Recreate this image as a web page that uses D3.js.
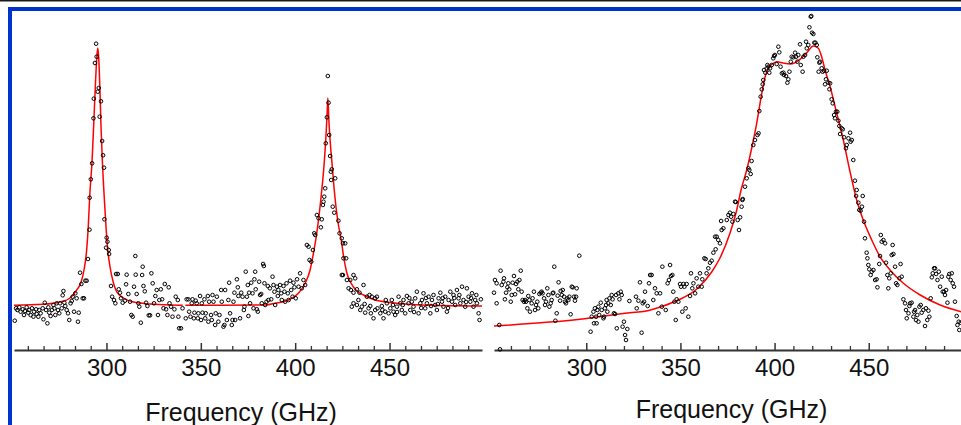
<!DOCTYPE html>
<html>
<head>
<meta charset="utf-8">
<script src="https://cdn.jsdelivr.net/npm/d3@7"></script>
<style>
  body { margin: 0; background: #fff; }
  text { font-family: "Liberation Sans", Arial, sans-serif; }
</style>
</head>
<body>
<div id="chart"></div>
<script>
// Frequency (GHz) vs signal (arb. units)
const majorTicks = [300, 350, 400, 450];
const leftMinorStep = 50 / 6;
const rightMinorStep = 10;
const axisTitle = "Frequency (GHz)";

// left panel: measured points
const leftPts = [
  [251.4,29.3],[252.1,41.7],[252.8,40],[253.8,42.7],[254.5,38.3],[255.6,40.7],[256.3,35],[256.8,39],[257.7,42.7],[258.6,37.3],
  [259.1,40],[259.8,35],[260.5,41.7],[261.3,33.3],[261.6,38.3],[262.7,40.7],[263,36],[263.9,33.3],[264.4,40],[265.1,36.7],
  [266.2,41.7],[266.6,30.7],[267.3,47.3],[268,40],[268.7,26.7],[269.2,42.7],[269.7,37.3],[270.4,34],[271.1,40],[271.9,45],
  [272.4,41.7],[272.9,35],[273.6,46.7],[274.3,40],[275,36.7],[275.4,46.7],[276.3,41.7],[276.8,54.7],[277.2,59],[277.7,47.3],
  [278.2,44],[278.9,40],[279.6,36.7],[280.3,30],[281,46.7],[281.6,49],[282.1,53.3],[282.8,38.3],[283.5,56.7],[284.2,51.7],
  [284.9,28.3],[285.3,37.3],[286,77.3],[286.7,66],[287.4,51.7],[288.1,51.7],[288.8,69.3],[289.5,69.3],[290.2,91],[291,120.3],
  [291.1,152.3],[291.7,170.7],[292.4,186.7],[293.1,231.7],[293.3,251.3],[293.9,287],[294.5,306.3],[294.8,293.3],[295.4,258.3],[295.9,262],
  [296.4,233.3],[297.1,248.7],[297.7,209],[298.2,194.7],[298.7,182.3],[298.9,130.7],[299.8,102.3],[300.1,112.3],[300.5,108.3],[301.2,100],
  [301.4,96],[302.4,64],[303,53.3],[304,50],[304.7,46.7],[305.1,76],[306,76],[306.5,60.7],[307.2,57.3],[307.7,51.7],
  [308.6,47.3],[309.8,49.3],[310.4,65.7],[310.7,75.3],[311.6,56],[312.5,48.3],[313.2,35],[313.9,33.3],[314.6,63.3],[315.3,94],
  [315.5,75.3],[316,56],[316.9,46.7],[317.4,43.3],[318.2,27.3],[318.9,75],[319.2,83.3],[319.6,64],[320.3,58.7],[321,47.3],
  [321.7,44],[322.4,34.7],[323.1,34.7],[323.8,76.7],[324.5,66.7],[325.2,46.7],[325.9,54],[326.6,60],[327.3,35],[328,50],
  [328.8,60.7],[329.5,50.7],[330.2,41.7],[330.9,66],[331.6,40.7],[332.3,35],[333,62.7],[333.4,46.7],[334.2,43.3],[335,33.3],
  [336,40.7],[336.7,53.3],[337.8,50],[338.1,33.3],[338.5,21.7],[339.5,21.7],[340.3,41.7],[342,31.7],[342.5,50.7],[343.4,50.7],
  [343.8,38.3],[344.5,33.3],[345.2,46.7],[345.6,50.7],[346.3,31.7],[346.6,37.3],[347.3,49.3],[347.8,46.7],[348.4,31.7],[348.7,36.7],
  [349.6,54],[350.1,30],[350.5,46.7],[350.9,37.3],[351.9,50.7],[352.3,31.7],[352.6,36.7],[353.7,54],[354,28.3],[354.4,48.3],
  [355.4,35],[355.8,30],[356.2,55],[356.7,48.3],[357.6,25],[357.9,36.7],[358.5,53.3],[359.3,28.3],[359.9,35],[360.8,60],
  [361.1,48.3],[362,23.3],[362.5,25],[362.9,60],[363.8,30],[364.6,50],[365,67.3],[365.5,36.7],[366.4,25],[366.8,30],
  [367.3,48.3],[367.8,57.3],[368.2,30],[369.1,70.7],[369.6,62.7],[369.9,54],[370.8,31.7],[371.4,57.3],[372.1,53.3],[372.8,40],
  [373.1,43.3],[373.8,78.3],[374.4,53.3],[374.9,65],[375.2,34],[375.6,57.3],[376.1,46.7],[376.7,67.3],[377.4,56.7],[377.9,41.7],
  [378.4,70.7],[378.8,78.3],[379.1,60.7],[379.7,40.7],[380.2,38.3],[380.9,68.3],[381.4,55],[382,56],[382.3,46.7],[383,86],
  [383.4,84],[383.7,66.7],[384.1,45],[384.8,48.3],[385.5,64],[385.8,50],[386.6,61.7],[387.3,50.7],[388,73.3],[388.5,65],
  [389,58.3],[389.4,45],[390.3,63.3],[390.8,54],[391.1,60],[392,65],[392.6,56.7],[392.9,50],[393.8,64],[394.3,58.3],
  [394.7,48.3],[395.4,66.7],[396.1,56.7],[396.5,50],[397.3,69.3],[397.9,60],[398.6,53.3],[399.1,67.3],[399.6,62.7],[400.3,51.7],
  [401,70.7],[401.8,63.3],[402.6,76.7],[403.5,61.7],[404.4,70],[405.3,65],[406.2,105],[407.1,103.3],[407.6,90],[408.5,88.3],
  [409.4,100],[410.1,116.7],[410.6,115],[411.5,135],[412.4,131.7],[413.6,122.7],[414.1,130.7],[414.7,145],[415,148.3],[415.4,153.3],
  [415.9,161.7],[416.2,206.7],[416.8,232.7],[417.3,274],[417.7,247.3],[418,215],[418.5,194],[418.9,178.3],[419.1,170],[419.4,180.7],
  [421.2,171.7],[419.9,143.3],[420.7,137.3],[422.9,129.3],[423.5,116.7],[424.7,111.7],[425.3,106.7],[426.5,106.7],[425.6,91.7],[427,91.7],
  [424.7,75],[425.3,75],[427.4,70],[429.2,70],[430.9,75],[431.8,71.7],[428.3,61.7],[429.5,60],[430.9,57.3],[432.7,60.7],
  [434.1,57.3],[436.2,65],[438,53.3],[439.4,55],[440.6,53.3],[442.4,51.7],[443.3,53.3],[430,43.3],[430.9,46.7],[432.7,45],
  [433.5,50],[434.5,40],[435.3,43.3],[436.8,46],[437.1,37.3],[438.9,41.7],[439.8,44],[440.1,36.7],[441.5,31.7],[442.4,40],
  [443.6,41.7],[445.1,36.7],[445.9,44],[446.2,40],[446.8,31.7],[447.7,38.3],[448,50],[448.6,46.7],[449.5,36.7],[450.4,41.7],
  [451.2,50],[451.8,45],[452.1,38.3],[453,35],[453.9,43.3],[454,38],[454.8,53.3],[455.7,46.7],[456.5,40],[457,45],
  [457.4,50],[458.3,36.7],[459.2,54],[460.1,46.7],[460.5,52],[461,40],[461.8,48.3],[462.7,43.3],[463,38],[463.6,51.7],
  [464.5,58.3],[465.4,36.7],[466.3,46.7],[466.8,42],[467.2,50],[468,56.7],[468.9,41.7],[469.3,52],[469.8,46.7],[470.7,53.3],
  [471.6,36.7],[472,44],[472.5,50],[473.3,55],[474.2,45],[475.1,40],[475.6,46],[476,51.7],[476.9,57.3],[477.8,48.3],
  [478.2,52],[478.6,43.3],[479.5,53.3],[480.4,38.3],[481,42],[481.3,50],[482.2,58.3],[483.1,48.3],[483.9,55],[484.3,52],
  [484.8,45],[485.7,60],[486.6,51.7],[487,55],[487.5,46.7],[488.4,63.3],[489.2,50],[490.1,43.3],[490.6,48],[491,61.7],
  [491.9,53.3],[492.8,48.3],[493.2,52],[493.7,56.7],[494.5,43.3],[495.4,50],[496,55],[496.3,46.7],[497.2,36.7],[497.7,30],
  [498.4,50.7]
];

// left panel: fitted curve (drawn with a short break near 341 GHz as in the original)
const leftFitA = [
  [251,44.7],[266.5,45.7],[275.4,48],[280.7,52],[284.2,60],[286.4,67],[288.1,80],[289.5,100],[290.4,125],[291.1,153],
  [292.4,190],[293.3,228],[294.2,268],[294.9,293],[295.4,302],[295.9,292],[296.5,262],[297.1,224],[297.8,190],[298.9,150],
  [299.8,122],[300.7,100],[301.9,83],[303.7,67],[305.5,58],[309,52],[314.3,48],[323.1,46],[333.7,45],[340.4,44.8]
];
const leftFitB = [
  [341.8,44.8],[360,44.8],[384.1,45],[389.4,46.7],[396.4,50],[401.7,56.7],[405.3,66.7],[407.9,80],[409.7,97],[411.3,115],
  [412.8,137],[414.1,160],[415.3,185],[416.2,210],[416.9,235],[417.3,252],[417.8,232],[418.5,210],[419.6,185],[420.7,160],
  [422.5,130],[424.4,110],[425.8,92],[427.4,77],[429,69],[430.9,63],[432.7,59],[436.2,55],[441.5,50.5],[453.9,46.7],
  [466.3,45],[499,44]
];

// right panel: measured points
const rightPts = [
  [251,57.3],[251.5,70],[252.4,66.7],[252.4,46.7],[253.8,25],[254.2,0.7],[254.5,79.3],[255.1,65],[256,68.3],[256.3,71.7],
  [256.8,50.7],[257.4,57.3],[258.1,62.7],[258.6,66.7],[259.1,60.7],[259.9,48.3],[260.4,55],[260.9,67.3],[261.6,74],[262.2,55.7],
  [262.7,66],[263.4,68.3],[263.9,60.7],[264.5,70],[265.2,79.3],[265.7,58.3],[266.2,50],[266.9,48.3],[267.5,50],[268,48.3],
  [268.7,41.7],[269.2,54],[269.8,50],[270.1,38.3],[271,46.7],[271.5,51.7],[272.2,58.3],[272.8,40],[273.3,45],[274,48.3],
  [274.5,41.7],[275.1,56],[275.8,57.3],[276.3,58.3],[276.8,56.7],[277.6,51.7],[278.1,45],[278.6,48.3],[279.3,61.7],[279.9,55],
  [280.4,43.3],[281.1,46.7],[281.6,50],[282.2,56.7],[282.5,57.3],[283,83.3],[283.6,29.3],[284.3,36.7],[284.8,54.3],[285.3,67.7],
  [286.1,49.3],[286.4,59],[287,55],[287.5,60],[288.2,53.3],[288.7,48.3],[289.2,46.7],[290,51.7],[290.5,50],[291,53.3],
  [291.7,35.7],[292.3,63.3],[292.8,62.7],[293.5,53.3],[294,49.3],[294.6,53.3],[294.9,61.7],[296.3,94.3],[302.3,18.3],[302.9,33.3],
  [303.8,38.3],[304.1,26.7],[304.6,41.7],[305.2,33.3],[305.5,26.7],[305.9,40],[306.4,43.3],[306.9,35],[307.7,47.3],[308.2,40],
  [309.1,31.7],[309.4,33.3],[309.9,41.7],[310.5,45],[310.8,50],[311.2,38.3],[311.7,46.7],[312.3,51.7],[313,45],[313.5,55],
  [314,50.7],[314.7,36.7],[315.3,36],[315.8,55],[316.2,21.7],[317,56.7],[317.6,50.7],[318.3,58.3],[318.8,55],[319.3,23.3],
  [320,28.3],[320.6,15],[321.1,10],[321.8,21],[322.9,49],[326.4,53.3],[326.8,41.7],[327.7,49.3],[328.5,67.7],[329.4,17.3],
  [330,46.7],[330.7,48.3],[331.2,58.3],[332.6,44],[333.3,66.7],[333.9,75],[334.7,75],[335.6,50],[336.5,61.7],[337.4,56.7],
  [338.3,36.7],[339.2,56.7],[340.1,43.3],[340.4,83.3],[342.2,40],[343.2,66.7],[343.9,70],[344.5,85],[345,74],[345.7,75],
  [346.2,58.3],[346.8,48.3],[347.5,30],[348,50.7],[348.9,48.3],[349.8,66],[350.3,63.3],[351,38.3],[351.6,66],[352.1,63.3],
  [352.8,41.7],[353.3,66],[354.2,33.3],[355.1,54],[355.6,76.7],[356.3,61.7],[356.9,66.7],[357.8,56.7],[358.6,71.7],[359.5,63.3],
  [360.4,76.7],[361.3,63.3],[361.6,70.7],[362.7,91.7],[363.4,91],[363.9,76.7],[364.8,81.7],[365.7,87.3],[366.6,89.3],[367.5,97.3],
  [368.4,113.3],[369.3,113.3],[368.7,100.7],[370.1,110],[371,106.7],[371.9,120],[372.8,121.7],[371.6,129],[374.6,130],[375.5,135],
  [376.3,137.3],[376.9,133.3],[377.6,128.3],[378.1,136],[379,148.3],[379.4,148],[380.4,130],[381.1,120],[381.7,132.7],[382.5,143.3],
  [382.9,150],[383.1,151],[384.3,163.3],[385.2,171.7],[386.1,181.7],[386.6,180],[387.3,176],[387.8,189],[388.7,205],[389.6,210],
  [390.9,215],[391.5,216.7],[391.9,239],[392.6,253.3],[393.2,260.7],[393.7,265.7],[394,270],[394.4,280],[395.1,277.3],[395.8,281.7],
  [396.2,285],[396.7,283.3],[397.2,277.3],[397.6,281.7],[398.5,285],[399.3,291.7],[399.7,294],[400.2,295],[401.1,286],[402,303.3],
  [402.5,297.7],[403.2,283.3],[403.9,276.7],[404.7,277.3],[405,275],[406.1,274],[406.8,267.3],[407.3,270.7],[407.9,278.3],[408.6,288.3],
  [409.1,293.3],[410,292.7],[410.9,297.3],[411.4,293.3],[412.1,288.3],[412.6,295],[413.5,305.7],[413.9,285],[414.9,278.3],[415.3,293.3],
  [416.2,295],[416.7,308.3],[417.1,301.7],[417.9,305],[418.5,322.7],[419.2,333.3],[419.5,334],[419.9,317.3],[420.6,316],[421.1,307.3],
  [421.7,307.3],[422.4,305],[422.7,292.7],[423.8,287.3],[424.1,288.3],[423.4,278.3],[425,281.7],[425.5,278.3],[426.3,279.3],[427.3,270.7],
  [427.7,279.3],[426.8,265.7],[428.6,267.3],[429.1,260.7],[429.5,266.7],[430.3,250.7],[430.9,246.7],[431.6,235],[432.1,231.7],[432.6,238.3],
  [433.3,238.3],[433.9,229.3],[434.4,224],[434.8,216],[435.6,221.7],[436.2,220.7],[436.9,212.7],[437.9,201.7],[438.3,205],[439.2,211.7],
  [440.1,217.3],[440.4,208.3],[441,210],[441.8,190],[442.7,169.3],[443.6,160],[443.3,154],[446.8,154],[444.5,147.3],[445,140],
  [445.7,139.3],[446.4,143.3],[447.5,128.3],[448,111.7],[448.9,97.3],[449.3,91.7],[449.8,85],[450.3,80.7],[451,75],[451.6,78.3],
  [452.5,80],[453.4,70],[454.2,70.7],[454.6,62.7],[455.6,86],[456,94],[456.4,115],[456.9,108.3],[457.8,110],[458.7,106.7],
  [459.2,87.3],[459.9,75],[460.4,61.7],[460.9,71.7],[461.7,76.7],[462.2,95],[462.7,105],[463.1,96],[464,83.3],[464.5,66.7],
  [465.2,65],[466.3,71.7],[466.9,86],[467.5,73.3],[468.4,50.7],[469.3,46.7],[469.8,40],[470.2,31.7],[471.1,36.7],[471.6,44],
  [472,46.7],[472.8,47.3],[473.7,33.3],[474.1,38.3],[474.6,40],[475.1,30],[475.8,35],[476.4,28.3],[476.9,43.3],[477.6,45],
  [478.1,37.3],[479,40],[479.9,24],[480.4,41.7],[481.1,30],[481.7,39.3],[482.2,33.3],[482.9,51.7],[483.5,72.7],[484,76.7],
  [484.7,81.7],[485.2,81.7],[485.8,76],[486.5,70],[487.2,78.3],[487.9,63.3],[488.8,73.3],[489.3,58.3],[490,58.3],[490.5,55],
  [491.1,60],[491.8,47.3],[492.3,73.3],[492.8,76],[493.5,70],[494.1,76.7],[494.6,66.7],[495.3,63.3],[495.8,48.3],[496.7,34],
  [497.1,25],[497.8,28.3],[498.1,20],[498.8,27.3]
];

// right panel: fitted curve
const rightFit = [
  [251,24],[296.7,30.7],[323.2,37.3],[331.2,38.8],[340.9,44],[348.9,50],[358.7,61],[366.6,78],[371,92],[376.3,116.7],
  [379.9,140],[382.2,160],[385.2,180],[388.2,205],[390.5,226.7],[393.2,256.7],[395,273.3],[396.7,281.7],[399.3,286.7],[401.2,288.3],
  [404.5,287],[408.2,286],[413.5,290.7],[417.1,297.3],[420.6,304],[423.2,301.7],[425,293.3],[426.8,280],[429.5,263.3],[433,236.7],
  [436.5,210],[440.1,178],[443.6,150],[447.1,130],[451.6,110],[456,93.3],[461.3,80],[468.4,66.7],[477.3,55],[487.9,45],
  [499,38.3]
];

const W = 961, H = 425;
const axisY = 350;

const svg = d3.select("#chart")
  .append("svg")
  .attr("width", W)
  .attr("height", H);

// frame: thin black line at the very top, blue bars at top and left
svg.append("rect").attr("x", 0).attr("y", 0).attr("width", W).attr("height", 1.5).attr("fill", "#1a1a1a");
svg.append("rect").attr("x", 8).attr("y", 7).attr("width", W - 8).attr("height", 4).attr("fill", "#0033cc");
svg.append("rect").attr("x", 8).attr("y", 7).attr("width", 4).attr("height", H - 7).attr("fill", "#0033cc");

const y = d3.scaleLinear().domain([0, 340]).range([axisY, 10]);

const panels = [
  { pts: leftPts, fits: [leftFitA, leftFitB], range: [14, 482], step: leftMinorStep, titleX: 241 , titleY: 421 },
  { pts: rightPts, fits: [rightFit], range: [494, 961], step: rightMinorStep, titleX: 731.5, titleY: 418 }
];

panels.forEach(p => {
  const x = d3.scaleLinear().domain([251, 499]).range(p.range);
  const g = svg.append("g");

  // minor ticks
  const minor = d3.range(250, 500, p.step).filter(v => v > 251 && v < 499 && !majorTicks.some(m => Math.abs(m - v) < 0.01));
  g.append("g")
    .attr("transform", `translate(0,${axisY})`)
    .call(d3.axisBottom(x).tickValues(minor).tickSize(-4).tickSizeOuter(0).tickFormat(""))
    .call(a => a.select(".domain").remove())
    .call(a => a.selectAll("line").attr("stroke", "#333").attr("stroke-width", 1.3));

  // major ticks + labels + axis line
  g.append("g")
    .attr("transform", `translate(0,${axisY})`)
    .call(d3.axisBottom(x).tickValues(majorTicks).tickSize(-7).tickSizeOuter(0).tickPadding(9))
    .call(a => a.select(".domain").attr("stroke", "#333").attr("stroke-width", 2))
    .call(a => a.selectAll("line").attr("stroke", "#333").attr("stroke-width", 1.5))
    .call(a => a.selectAll("text")
      .attr("fill", "#111")
      .style("font-size", "24px")
      .style("font-family", "'Liberation Sans', Arial, sans-serif"));

  // fitted curve
  const line = d3.line()
    .x(d => x(d[0]))
    .y(d => y(d[1]))
    .curve(d3.curveMonotoneX);

  p.fits.forEach(f => {
    g.append("path")
      .datum(f)
      .attr("d", line)
      .attr("fill", "none")
      .attr("stroke", "#ff0000")
      .attr("stroke-width", 1.5);
  });

  // data points, open circles
  g.selectAll(".pt")
    .data(p.pts)
    .enter()
    .append("circle")
    .attr("class", "pt")
    .attr("cx", d => x(d[0]))
    .attr("cy", d => y(d[1]))
    .attr("r", 1.8)
    .attr("fill", "none")
    .attr("stroke", "#000")
    .attr("stroke-width", 1);

  // axis title
  g.append("text")
    .attr("x", p.titleX)
    .attr("y", p.titleY)
    .attr("text-anchor", "middle")
    .attr("fill", "#111")
    .style("font-size", "25px")
    .text(axisTitle);
});
</script>
</body>
</html>
